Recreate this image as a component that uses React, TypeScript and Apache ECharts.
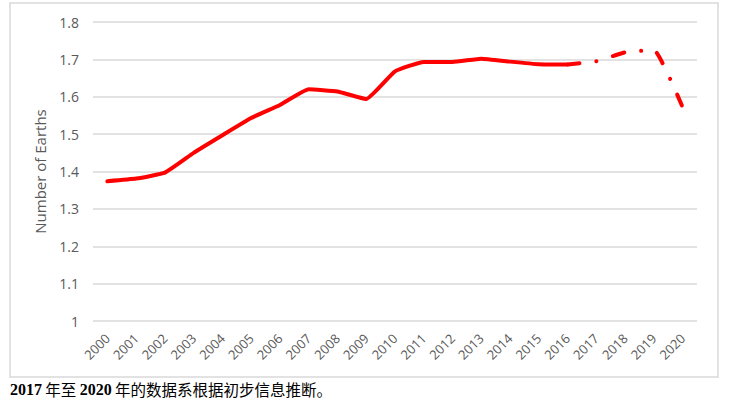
import React, { useEffect, useRef } from "react";
import * as echarts from "echarts";

const years = ["2000","2001","2002","2003","2004","2005","2006","2007","2008","2009","2010","2011","2012","2013","2014","2015","2016","2017","2018","2019","2020"];
const actual = [1.374,1.381,1.397,1.45,1.497,1.543,1.578,1.62,1.614,1.594,1.668,1.693,1.693,1.702,1.694,1.687,1.686,null,null,null,null];
const projected = [null,null,null,null,null,null,null,null,null,null,null,null,null,null,null,null,1.686,1.695,1.719,1.725,1.572];
const yTicks = { min: 1, max: 1.8, interval: 0.1 };

export default function App() {
  const ref = useRef<HTMLDivElement>(null);
  useEffect(() => {
    document.body.style.margin = "0";
    const chart = echarts.init(ref.current!, null, { renderer: "svg" });
    const labelFont = "'Open Sans', 'Noto Sans', sans-serif";
    chart.setOption({
      animation: false,
      backgroundColor: "#ffffff",
      grid: { left: 93, right: 33, top: 22, bottom: 79 },
      xAxis: {
        type: "category",
        data: years,
        boundaryGap: true,
        axisLine: { show: false },
        axisTick: { show: false },
        axisLabel: { rotate: 45, color: "#595959", fontSize: 13, fontFamily: labelFont, margin: 15, interval: 0 },
      },
      yAxis: {
        type: "value",
        min: yTicks.min,
        max: yTicks.max,
        interval: yTicks.interval,
        name: "Number of Earths",
        nameLocation: "middle",
        nameGap: 46,
        nameTextStyle: { color: "#595959", fontSize: 15, fontFamily: labelFont },
        axisLine: { show: false },
        axisTick: { show: false },
        splitLine: { lineStyle: { color: "#d9d9d9", width: 1.5 } },
        axisLabel: { color: "#595959", fontSize: 14, fontFamily: labelFont, margin: 14, formatter: (v: number) => String(Math.round(v * 10) / 10) },
      },
      series: [
        {
          type: "line",
          data: actual,
          showSymbol: false,
          smooth: 0.12,
          lineStyle: { color: "#ff0000", width: 4, cap: "round", join: "round" },
        },
        {
          type: "line",
          data: projected,
          showSymbol: false,
          smooth: 0.12,
          lineStyle: { color: "#ff0000", width: 4, cap: "round", type: [12, 17, 0.1, 17] },
        },
      ],
      graphic: [
        {
          type: "rect",
          shape: { x: 10, y: 3, width: 708, height: 374 },
          style: { fill: "none", stroke: "#d9d9d9", lineWidth: 1.5 },
          silent: true,
        },
        {
          type: "text",
          x: 10,
          y: 389,
          style: {
            text: "{b|2017} {c|年至} {b|2020} {c|年的数据系根据初步信息推断。}",
            verticalAlign: "middle",
            rich: {
              b: { fontFamily: "'Liberation Serif', serif", fontWeight: "bold", fontSize: 16, lineHeight: 18, fill: "#000" },
              c: { fontFamily: "'Noto Sans CJK SC', sans-serif", fontSize: 15.5, lineHeight: 18, fill: "#000" },
            },
          },
        },
      ],
    });
    return () => chart.dispose();
  }, []);
  return <div ref={ref} style={{ width: 730, height: 400 }} />;
}
